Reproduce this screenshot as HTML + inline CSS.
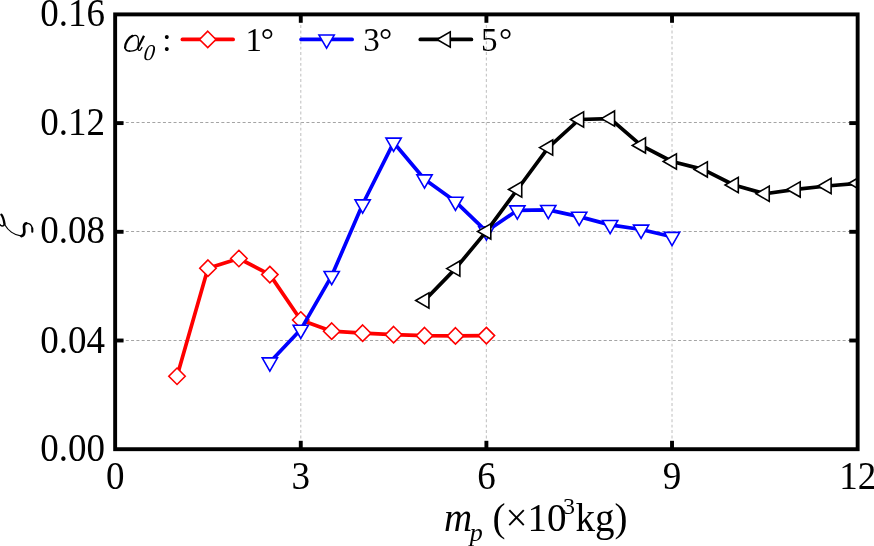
<!DOCTYPE html>
<html><head><meta charset="utf-8"><style>
html,body{margin:0;padding:0;background:#fff;}
svg{display:block;will-change:transform;}
text{font-family:"Liberation Serif",serif;fill:#000;}
</style></head><body>
<svg width="874" height="546" viewBox="0 0 874 546">
<defs><clipPath id="pc"><rect x="115.15" y="14.40" width="742.50" height="434.80"/></clipPath></defs>
<g><line x1="115.15" y1="340.50" x2="857.65" y2="340.50" stroke="#a4a4a4" stroke-width="1.1" stroke-dasharray="3.0 2.31"/><line x1="115.15" y1="231.50" x2="857.65" y2="231.50" stroke="#a4a4a4" stroke-width="1.1" stroke-dasharray="3.0 2.31"/><line x1="115.15" y1="122.50" x2="857.65" y2="122.50" stroke="#a4a4a4" stroke-width="1.1" stroke-dasharray="3.0 2.31"/><line x1="300.77" y1="449.20" x2="300.77" y2="14.40" stroke="#c8c8c8" stroke-width="1.2" stroke-dasharray="2.9 2.5"/><line x1="486.40" y1="449.20" x2="486.40" y2="14.40" stroke="#c8c8c8" stroke-width="1.2" stroke-dasharray="2.9 2.5"/><line x1="672.02" y1="449.20" x2="672.02" y2="14.40" stroke="#c8c8c8" stroke-width="1.2" stroke-dasharray="2.9 2.5"/></g>
<g clip-path="url(#pc)">
<polyline points="177.03,376.25 207.96,268.20 238.90,258.50 269.84,274.60 300.77,320.00 331.71,331.20 362.65,333.20 393.59,334.70 424.52,335.70 455.46,335.90 486.40,335.60" fill="none" stroke="#ff0000" stroke-width="3.7" stroke-linejoin="round" stroke-linecap="round"/><g fill="#fff" stroke="#ff0000" stroke-width="1.6" stroke-linejoin="miter"><path d="M177.03 368.05L185.22 376.25L177.03 384.45L168.83 376.25Z"/><path d="M207.96 260.00L216.16 268.20L207.96 276.40L199.76 268.20Z"/><path d="M238.90 250.30L247.10 258.50L238.90 266.70L230.70 258.50Z"/><path d="M269.84 266.40L278.04 274.60L269.84 282.80L261.64 274.60Z"/><path d="M300.77 311.80L308.97 320.00L300.77 328.20L292.57 320.00Z"/><path d="M331.71 323.00L339.91 331.20L331.71 339.40L323.51 331.20Z"/><path d="M362.65 325.00L370.85 333.20L362.65 341.40L354.45 333.20Z"/><path d="M393.59 326.50L401.79 334.70L393.59 342.90L385.39 334.70Z"/><path d="M424.52 327.50L432.72 335.70L424.52 343.90L416.32 335.70Z"/><path d="M455.46 327.70L463.66 335.90L455.46 344.10L447.26 335.90Z"/><path d="M486.40 327.40L494.60 335.60L486.40 343.80L478.20 335.60Z"/></g>
<polyline points="269.84,362.30 300.77,329.60 331.71,275.85 362.65,204.25 393.59,142.55 424.52,179.30 455.46,201.60 486.40,231.30 517.34,210.30 548.27,209.90 579.21,216.60 610.15,224.90 641.09,229.50 672.02,236.80" fill="none" stroke="#0000ff" stroke-width="3.7" stroke-linejoin="round" stroke-linecap="round"/><g fill="#fff" stroke="#0000ff" stroke-width="1.6" stroke-linejoin="miter"><path d="M262.22 357.90L277.46 357.90L269.84 371.10Z"/><path d="M293.15 325.20L308.40 325.20L300.77 338.40Z"/><path d="M324.09 271.45L339.33 271.45L331.71 284.65Z"/><path d="M355.03 199.85L370.27 199.85L362.65 213.05Z"/><path d="M385.97 138.15L401.21 138.15L393.59 151.35Z"/><path d="M416.90 174.90L432.15 174.90L424.52 188.10Z"/><path d="M447.84 197.20L463.08 197.20L455.46 210.40Z"/><path d="M478.78 226.90L494.02 226.90L486.40 240.10Z"/><path d="M509.72 205.90L524.96 205.90L517.34 219.10Z"/><path d="M540.65 205.50L555.90 205.50L548.27 218.70Z"/><path d="M571.59 212.20L586.83 212.20L579.21 225.40Z"/><path d="M602.53 220.50L617.77 220.50L610.15 233.70Z"/><path d="M633.47 225.10L648.71 225.10L641.09 238.30Z"/><path d="M664.40 232.40L679.65 232.40L672.02 245.60Z"/></g>
<polyline points="424.52,300.55 455.46,268.60 486.40,231.40 517.34,189.50 548.27,147.60 579.21,119.50 610.15,118.60 641.09,145.40 672.02,161.50 702.96,169.40 733.90,185.00 764.84,193.75 795.77,189.40 826.71,186.00 857.65,183.30" fill="none" stroke="#000000" stroke-width="3.7" stroke-linejoin="round" stroke-linecap="round"/><g fill="#fff" stroke="#000000" stroke-width="1.6" stroke-linejoin="miter"><path d="M415.72 300.55L428.92 292.93L428.92 308.17Z"/><path d="M446.66 268.60L459.86 260.98L459.86 276.22Z"/><path d="M477.60 231.40L490.80 223.78L490.80 239.02Z"/><path d="M508.54 189.50L521.74 181.88L521.74 197.12Z"/><path d="M539.48 147.60L552.67 139.98L552.67 155.22Z"/><path d="M570.41 119.50L583.61 111.88L583.61 127.12Z"/><path d="M601.35 118.60L614.55 110.98L614.55 126.22Z"/><path d="M632.29 145.40L645.49 137.78L645.49 153.02Z"/><path d="M663.23 161.50L676.42 153.88L676.42 169.12Z"/><path d="M694.16 169.40L707.36 161.78L707.36 177.02Z"/><path d="M725.10 185.00L738.30 177.38L738.30 192.62Z"/><path d="M756.04 193.75L769.24 186.13L769.24 201.37Z"/><path d="M786.98 189.40L800.17 181.78L800.17 197.02Z"/><path d="M817.91 186.00L831.11 178.38L831.11 193.62Z"/><path d="M848.85 183.30L862.05 175.68L862.05 190.92Z"/></g>
</g>
<g stroke="#000" stroke-width="3.9" fill="none">
<rect x="115.15" y="14.40" width="742.50" height="434.80" stroke-linejoin="miter"/>
<line x1="115.15" y1="340.50" x2="123.55" y2="340.50"/><line x1="857.65" y1="340.50" x2="849.25" y2="340.50"/><line x1="115.15" y1="231.80" x2="123.55" y2="231.80"/><line x1="857.65" y1="231.80" x2="849.25" y2="231.80"/><line x1="115.15" y1="123.10" x2="123.55" y2="123.10"/><line x1="857.65" y1="123.10" x2="849.25" y2="123.10"/><line x1="300.77" y1="449.20" x2="300.77" y2="440.80"/><line x1="300.77" y1="14.40" x2="300.77" y2="22.80"/><line x1="486.40" y1="449.20" x2="486.40" y2="440.80"/><line x1="486.40" y1="14.40" x2="486.40" y2="22.80"/><line x1="672.02" y1="449.20" x2="672.02" y2="440.80"/><line x1="672.02" y1="14.40" x2="672.02" y2="22.80"/>
</g>
<g font-size="39"><text transform="translate(105.0,25.9) scale(0.949,1.0001)" text-anchor="end">0.16</text><text transform="translate(105.0,134.8) scale(0.949,1.0001)" text-anchor="end">0.12</text><text transform="translate(105.0,243.2) scale(0.949,1.0001)" text-anchor="end">0.08</text><text transform="translate(105.0,352.7) scale(0.949,1.0001)" text-anchor="end">0.04</text><text transform="translate(105.0,460.9) scale(0.949,1.0001)" text-anchor="end">0.00</text><text transform="translate(115.15,488.6) scale(0.949,1.0001)" text-anchor="middle">0</text><text transform="translate(300.77,488.6) scale(0.949,1.0001)" text-anchor="middle">3</text><text transform="translate(486.40,488.6) scale(0.949,1.0001)" text-anchor="middle">6</text><text transform="translate(672.02,488.6) scale(0.949,1.0001)" text-anchor="middle">9</text><text transform="translate(857.65,488.6) scale(0.949,1.0001)" text-anchor="middle">12</text></g>
<g><g fill="none" stroke="#000" stroke-linecap="round"><path stroke-width="2.2" stroke-linecap="butt" d="M144,35.8 L137.6,48.6"/><path stroke-width="1.25" d="M137.8,48.2 C135.8,50.6 132.2,51.3 129.4,51.1"/><path stroke-width="1.6" d="M129.6,51.1 C127,51 125.3,49.8 125.1,47.5"/><path stroke-width="2.3" d="M125.1,47.8 C125.1,43 128.5,37.5 132.5,35.9"/><path stroke-width="1.25" d="M132.2,36 C133.2,35.6 134.2,35.4 135.1,35.4 C137.4,35.4 138.4,37.6 138.4,40.6 C138.4,43.5 138.1,46 138.3,48.2"/><path stroke-width="1.3" d="M137.8,48.3 C137.9,50.3 139.2,50.8 140.3,49.9 C140.9,49.3 141.4,48.5 141.9,47.5"/></g><text transform="translate(143,59.6) skewX(-6)" font-style="italic" font-size="22.5">0</text><text x="162.3" y="50.7" font-size="33">:</text><line x1="182.4" y1="39.45" x2="233.1" y2="39.45" stroke="#ff0000" stroke-width="3.7" stroke-linecap="round"/><g fill="#fff" stroke="#ff0000" stroke-width="1.6"><path d="M207.75 31.25L215.95 39.45L207.75 47.65L199.55 39.45Z"/></g><text x="245.4" y="51" font-size="33">1</text><text x="260.7" y="51" font-size="33">°</text><line x1="301.1" y1="39.45" x2="352.1" y2="39.45" stroke="#0000ff" stroke-width="3.7" stroke-linecap="round"/><g fill="#fff" stroke="#0000ff" stroke-width="1.6"><path d="M318.98 35.05L334.22 35.05L326.60 48.25Z"/></g><text x="363.2" y="51" font-size="33">3</text><text x="379.1" y="51" font-size="33">°</text><line x1="420.3" y1="39.45" x2="471.4" y2="39.45" stroke="#000000" stroke-width="3.7" stroke-linecap="round"/><g fill="#fff" stroke="#000000" stroke-width="1.6"><path d="M437.05 39.45L450.25 31.83L450.25 47.07Z"/></g><text x="481.0" y="51" font-size="33">5</text><text x="499.0" y="51" font-size="33">°</text></g>
<g font-size="39">
<text x="444" y="530.8" font-style="italic">m</text>
<text x="469.8" y="540.6" font-style="italic" font-size="26">p</text>
<text x="492.5" y="530.8">(×10</text>
<text x="563" y="514.2" font-size="24">3</text>
<text x="575.5" y="530.8">kg)</text>
</g>
<g fill="none" stroke="#000" stroke-linecap="round">
<path d="M1.4,214.7 C2.7,216.5 3.9,220 4.5,224" stroke-width="2.3"/>
<path d="M4.5,224.2 C3.6,226.6 1.4,226.6 -0.5,224.2" stroke-width="1.5"/>
<path d="M4.4,224.3 C7.6,229.8 14,235.3 21.6,236.1" stroke-width="1.25"/>
<path d="M21.4,236.1 C24.4,235.6 24.6,231.5 24.1,228.3 C23.7,225.6 24.2,223.7 26.3,223.4" stroke-width="2.7"/>
<path d="M26,223.4 C29.2,223.1 31.6,225 32.3,228.3" stroke-width="1.4"/>
<path d="M32.3,228.4 L32.3,231.8" stroke-width="2.1"/>
</g>
<g>
</g>
</svg>
</body></html>
